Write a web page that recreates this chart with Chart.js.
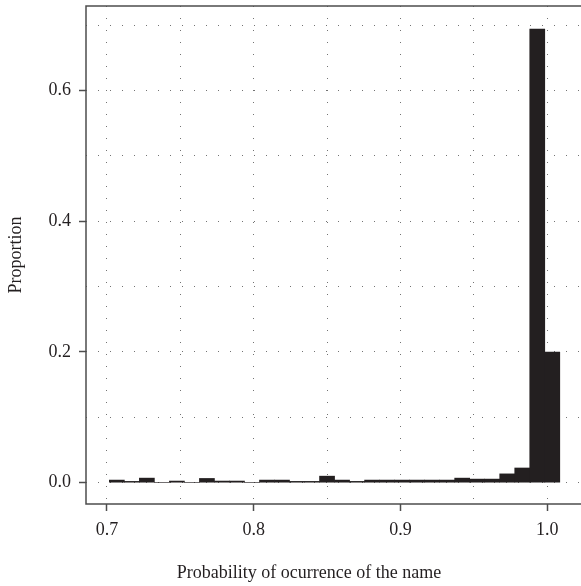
<!DOCTYPE html>
<html>
<head>
<meta charset="utf-8">
<script src="https://cdn.jsdelivr.net/npm/chart.js@4/dist/chart.umd.min.js"></script>
<style>
  html, body { margin: 0; padding: 0; background: #fff; overflow: hidden; }
  /* the plot runs past the right edge of the window, as in the source figure */
  #wrap { width: 600px; height: 586px; }
  canvas { display: block; }
</style>
</head>
<body>
<div id="wrap"><canvas id="hist"></canvas></div>
<script>
// histogram bins (width ~0.0102) and proportion per bin
const binStart = 0.7016;
const binWidth = 0.01023;
const proportions = [
    0.004, 0.002, 0.007, 0, 0.0025, 0, 0.0065, 0.0025, 0.0025, 0,
    0.004, 0.004, 0.002, 0.002, 0.010, 0.004, 0.002, 0.004, 0.004, 0.004,
    0.004, 0.004, 0.004, 0.007, 0.0055, 0.0055, 0.0135, 0.0225, 0.694, 0.200
];
const xTickLabels = [0.7, 0.8, 0.9, 1.0];
const yTickLabels = [0.0, 0.2, 0.4, 0.6];
const xGridLines = [0.7, 0.75, 0.8, 0.85, 0.9, 0.95, 1.0];
const yGridLines = [0.0, 0.1, 0.2, 0.3, 0.4, 0.5, 0.6, 0.7];
const xTitle = 'Probability of ocurrence of the name';
const yTitle = 'Proportion';

const INK = '#231f20';
const FONT = '"Liberation Serif", "DejaVu Serif", serif';

const points = proportions.map((p, i) => ({ x: binStart + (i + 0.5) * binWidth, y: p }));

const isMajor = (list, v) => list.some(t => Math.abs(t - v) < 1e-6);
const tickColorFor = list => c => (c.tick && isMajor(list, c.tick.value)) ? '#4d4d4d' : 'rgba(0,0,0,0)';

// frame (top, left, bottom) and the x title
const framePlugin = {
    id: 'frame',
    afterDraw(chart) {
        const { ctx, chartArea } = chart;
        const farRight = chart.width + 20;
        ctx.save();
        ctx.strokeStyle = '#4d4d4d';
        ctx.lineWidth = 1.5;
        ctx.beginPath();
        ctx.moveTo(farRight, chartArea.top);
        ctx.lineTo(chartArea.left, chartArea.top);
        ctx.lineTo(chartArea.left, chartArea.bottom);
        ctx.lineTo(farRight, chartArea.bottom);
        ctx.stroke();
        ctx.font = '18px ' + FONT;
        ctx.fillStyle = INK;
        ctx.textAlign = 'center';
        ctx.textBaseline = 'alphabetic';
        ctx.fillText(xTitle, 309, 578);
        ctx.restore();
    }
};

const ctx = document.getElementById('hist').getContext('2d');
const chart = new Chart(ctx, {
    type: 'bar',
    data: {
        datasets: [{
            data: points,
            backgroundColor: INK,
            borderWidth: 0,
            barPercentage: 1,
            categoryPercentage: 1
        }]
    },
    options: {
        responsive: true,
        maintainAspectRatio: false,
        animation: false,
        layout: { padding: { top: 6, right: 0, left: 0, bottom: 0 } },
        plugins: {
            legend: { display: false },
            tooltip: { enabled: false }
        },
        scales: {
            x: {
                type: 'linear',
                offset: false,
                min: 0.6857,
                max: 1.0359,
                afterBuildTicks: scale => {
                    scale.ticks = xGridLines.map(v => ({ value: v }));
                },
                afterFit: scale => {
                    scale.height = 82;
                    scale.paddingLeft = 0;
                    scale.paddingRight = 0;
                },
                ticks: {
                    autoSkip: false,
                    maxRotation: 0,
                    padding: 8,
                    color: INK,
                    font: { family: FONT, size: 18 },
                    callback: v => isMajor(xTickLabels, v) ? v.toFixed(1) : ''
                },
                grid: {
                    offset: false,
                    color: 'rgba(0,0,0,0.55)',
                    lineWidth: 1,
                    tickLength: 7,
                    tickColor: tickColorFor(xTickLabels),
                    tickWidth: 1.5
                },
                border: { display: false, dash: [1, 11] }
            },
            y: {
                min: -0.0326,
                max: 0.7294,
                afterBuildTicks: scale => {
                    scale.ticks = yGridLines.map(v => ({ value: v }));
                },
                afterFit: scale => {
                    scale.width = 86;
                    scale.paddingTop = 0;
                    scale.paddingBottom = 0;
                },
                title: {
                    display: true,
                    text: yTitle,
                    color: INK,
                    font: { family: FONT, size: 18 },
                    padding: { top: 5, bottom: 4 }
                },
                ticks: {
                    autoSkip: false,
                    padding: 8,
                    color: INK,
                    font: { family: FONT, size: 18 },
                    callback: v => isMajor(yTickLabels, v) ? v.toFixed(1) : ''
                },
                grid: {
                    color: 'rgba(0,0,0,0.55)',
                    lineWidth: 1,
                    tickLength: 7,
                    tickColor: tickColorFor(yTickLabels),
                    tickWidth: 1.5
                },
                border: { display: false, dash: [1, 11] }
            }
        }
    },
    plugins: [framePlugin]
});
</script>
</body>
</html>
